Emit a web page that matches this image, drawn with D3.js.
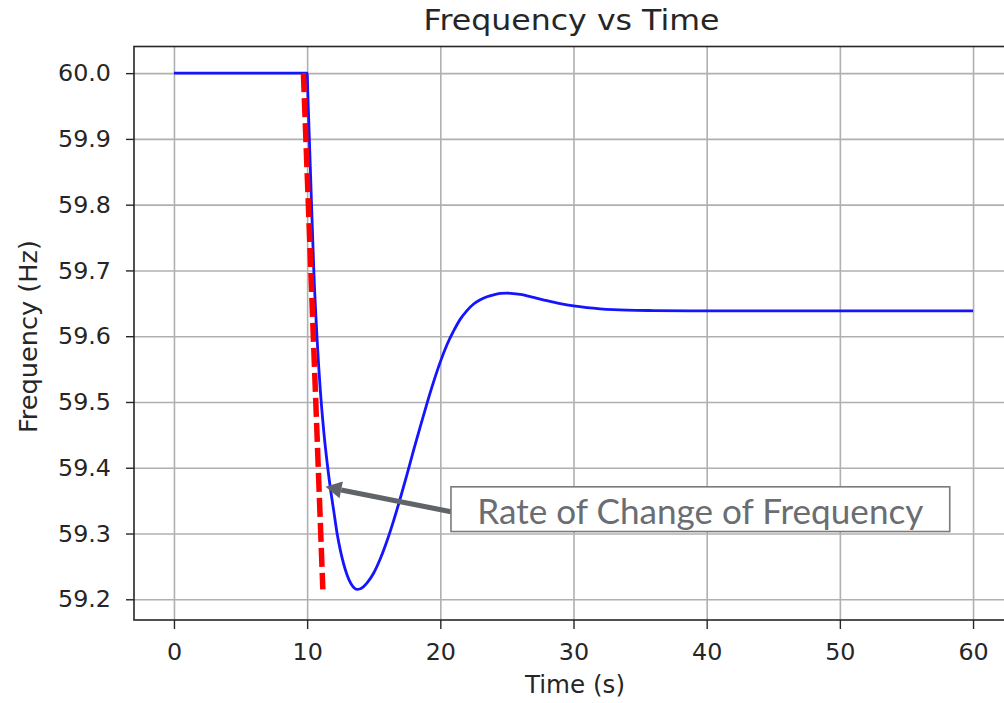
<!DOCTYPE html>
<html>
<head>
<meta charset="utf-8">
<script src="https://cdn.jsdelivr.net/npm/d3@7"></script>
<style>
  body { margin: 0; background: #fff; overflow: hidden; }
  svg { display: block; }
  .tick text { font-family: "DejaVu Sans", sans-serif; font-size: 23.8px; fill: #262626; }
  .tick line { stroke: #262626; stroke-width: 1.4; }
  .grid .tick line { stroke: #b0b0b0; stroke-width: 1.6; }
</style>
</head>
<body>
<svg width="1004" height="703"></svg>
<script>
// frequency response
let times = [0, 10, 10.05, 10.25, 10.5, 10.75, 11, 11.25, 11.5, 11.75, 12, 12.25, 12.5, 13, 13.5, 13.75,
             14, 14.5, 15, 15.5, 16, 16.5, 17, 17.5, 18, 18.5, 19, 19.5, 20, 20.5, 21, 21.5,
             22, 22.5, 23, 23.5, 24, 24.5, 25, 26, 27, 28, 29, 30, 31, 32, 33, 34, 36, 40, 50, 60];
let freqs = [60.0, 60.0, 59.97, 59.85, 59.70, 59.595, 59.515, 59.455, 59.408, 59.368, 59.334, 59.300, 59.274, 59.237, 59.218, 59.215,
             59.216, 59.225, 59.240, 59.262, 59.289, 59.320, 59.354, 59.390, 59.427, 59.463, 59.498, 59.531, 59.561, 59.587, 59.608, 59.626,
             59.639, 59.649, 59.6555, 59.660, 59.663, 59.665, 59.6655, 59.6635, 59.659, 59.654, 59.6495, 59.646, 59.6435, 59.6417, 59.6405, 59.6397, 59.639, 59.6385, 59.6385, 59.6385];

// dashed tangent line (rate of change of frequency)
let rocofTimes = [9.72, 11.18];
let rocofFreqs = [60.0, 59.215];

let xTicks = [0, 10, 20, 30, 40, 50, 60];
let yTicks = [59.2, 59.3, 59.4, 59.5, 59.6, 59.7, 59.8, 59.9, 60.0];

let noteText = "Rate of Change of Frequency";
let noteTip = [11.38, 59.371];
let noteBox = [20.8, 58.25, 59.371, 59.303]; // t0, t1, f-top, f-bottom

var svg = d3.select("svg");

let mLeft = 134, mRight = 1013, mTop = 46.5, mBottom = 620;

let x = d3.scaleLinear().domain([-3, 63]).range([mLeft, mRight]);
let y = d3.scaleLinear().domain([59.1685, 60.0405]).range([mBottom, mTop]);

// grid
svg.append("g")
    .attr("class", "grid")
    .attr("transform", "translate(0," + mBottom + ")")
    .call(d3.axisBottom(x).tickValues(xTicks).tickSize(-(mBottom - mTop)).tickFormat(""))
    .call(g => g.select(".domain").remove());
svg.append("g")
    .attr("class", "grid")
    .attr("transform", "translate(" + mLeft + ",0)")
    .call(d3.axisLeft(y).tickValues(yTicks).tickSize(-(mRight - mLeft)).tickFormat(""))
    .call(g => g.select(".domain").remove());

// axes
svg.append("g")
    .attr("transform", "translate(0," + mBottom + ")")
    .call(d3.axisBottom(x).tickValues(xTicks).tickSize(9).tickPadding(14).tickFormat(d3.format("d")))
    .call(g => g.select(".domain").remove());
svg.append("g")
    .attr("transform", "translate(" + mLeft + ",0)")
    .call(d3.axisLeft(y).tickValues(yTicks).tickSize(8).tickPadding(15).tickFormat(d3.format(".1f")))
    .call(g => g.select(".domain").remove());

// spines
svg.append("rect")
    .attr("x", mLeft).attr("y", mTop)
    .attr("width", mRight - mLeft).attr("height", mBottom - mTop)
    .attr("fill", "none").attr("stroke", "#262626").attr("stroke-width", 1.6);

// frequency line
let line = d3.line()
    .x((d, i) => x(times[i]))
    .y(d => y(d))
    .curve(d3.curveMonotoneX);

svg.append("path")
    .datum(freqs)
    .attr("d", line)
    .attr("fill", "none")
    .attr("stroke", "#1414ff")
    .attr("stroke-width", 2.8);

svg.append("path")
    .datum(rocofFreqs)
    .attr("d", d3.line().x((d, i) => x(rocofTimes[i])).y(d => y(d)))
    .attr("fill", "none")
    .attr("stroke", "#ff0000")
    .attr("stroke-width", 5.5)
    .attr("stroke-dasharray", "19,6");

// annotation
let bx0 = x(noteBox[0]), bx1 = x(noteBox[1]), by0 = y(noteBox[2]), by1 = y(noteBox[3]);
let tail = [bx0, by0 + 25], tip = [x(noteTip[0]), y(noteTip[1])];
let ang = Math.atan2(tip[1] - tail[1], tip[0] - tail[0]);
let headLen = 16, headW = 8.5;
let base = [tip[0] - headLen * Math.cos(ang), tip[1] - headLen * Math.sin(ang)];

svg.append("line")
    .attr("x1", tail[0]).attr("y1", tail[1])
    .attr("x2", base[0]).attr("y2", base[1])
    .attr("stroke", "#606368").attr("stroke-width", 5);
svg.append("path")
    .attr("d", d3.line()([
        tip,
        [base[0] + headW * Math.sin(ang), base[1] - headW * Math.cos(ang)],
        [base[0] - headW * Math.sin(ang), base[1] + headW * Math.cos(ang)]
    ]) + "Z")
    .attr("fill", "#606368");

svg.append("rect")
    .attr("x", bx0).attr("y", by0)
    .attr("width", bx1 - bx0).attr("height", by1 - by0)
    .attr("fill", "#fff").attr("stroke", "#7a7a7a").attr("stroke-width", 1.6);
svg.append("text")
    .attr("x", (bx0 + bx1) / 2)
    .attr("y", by1 - 8)
    .attr("text-anchor", "middle")
    .attr("font-family", "Lato, sans-serif")
    .attr("font-size", 34)
    .attr("textLength", 446)
    .attr("lengthAdjust", "spacingAndGlyphs")
    .attr("fill", "#6a6d72")
    .text(noteText);

// labels
svg.append("text")
    .attr("x", 571.5).attr("y", 30)
    .attr("text-anchor", "middle")
    .attr("font-family", "DejaVu Sans, sans-serif")
    .attr("font-size", 29)
    .attr("textLength", 296)
    .attr("lengthAdjust", "spacingAndGlyphs")
    .attr("fill", "#262626")
    .text("Frequency vs Time");
svg.append("text")
    .attr("x", 575).attr("y", 693)
    .attr("text-anchor", "middle")
    .attr("font-family", "DejaVu Sans, sans-serif")
    .attr("font-size", 24)
    .attr("textLength", 100)
    .attr("lengthAdjust", "spacingAndGlyphs")
    .attr("fill", "#262626")
    .text("Time (s)");
svg.append("text")
    .attr("transform", "translate(37,336.5) rotate(-90)")
    .attr("text-anchor", "middle")
    .attr("font-family", "DejaVu Sans, sans-serif")
    .attr("font-size", 24)
    .attr("textLength", 193)
    .attr("lengthAdjust", "spacingAndGlyphs")
    .attr("fill", "#262626")
    .text("Frequency (Hz)");
</script>
</body>
</html>
